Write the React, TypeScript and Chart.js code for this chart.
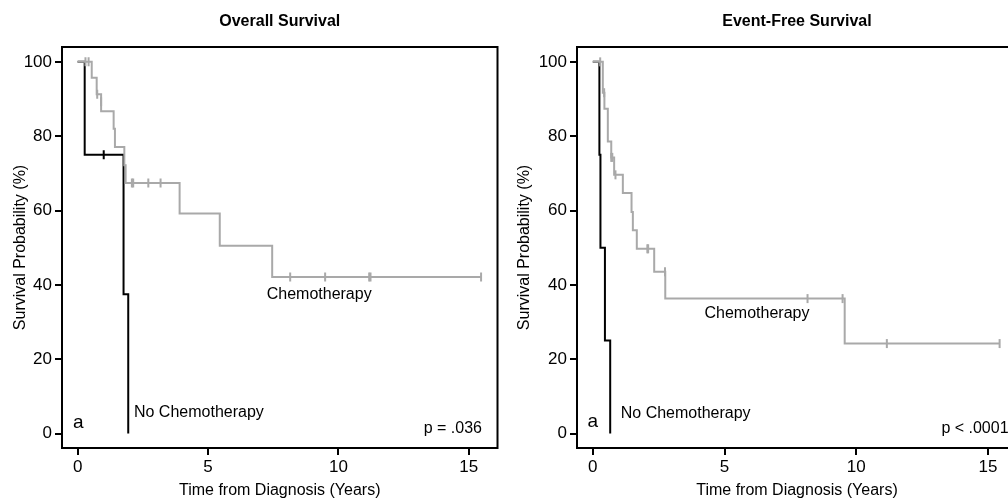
import React, { useEffect, useRef } from "react";
import { Chart, registerables } from "chart.js";

Chart.register(...registerables);

const FONT = "'Liberation Sans', Arial, Helvetica, sans-serif";

// Axis ticks
const xTicks = [0, 5, 10, 15];
const yTicks = [0, 20, 40, 60, 80, 100];

// ---- Overall Survival ----
const osChemoTime = [0, 0.54, 0.73, 0.9, 1.38, 1.43, 1.79, 1.84, 3.91, 5.45, 7.46, 15.47];
const osChemoSurv = [100, 95.7, 91.3, 86.7, 82.0, 77.1, 72.2, 67.4, 59.2, 50.5, 42.1, 42.1];
const osChemoCensorTime = [0.3, 0.42, 0.75, 0.9, 2.08, 2.13, 2.71, 3.18, 8.15, 9.49, 11.18, 11.23, 15.47];
const osChemoCensorSurv = [100, 100, 91.3, 89.3, 67.4, 67.4, 67.4, 67.4, 42.1, 42.1, 42.1, 42.1, 42.1];
const osNoChemoTime = [0, 0.27, 1.76, 1.94];
const osNoChemoSurv = [100, 75, 37.5, 0];
const osNoChemoCensorTime = [1.0];
const osNoChemoCensorSurv = [75];

// ---- Event-Free Survival ----
const efsChemoTime = [0, 0.38, 0.44, 0.57, 0.7, 0.81, 1.14, 1.47, 1.52, 1.67, 2.33, 2.75, 9.56, 15.44];
const efsChemoSurv = [100, 91.7, 87.4, 78.6, 74.3, 69.6, 64.7, 59.6, 54.7, 49.7, 43.5, 36.3, 24.2, 24.2];
const efsChemoCensorTime = [0.28, 0.43, 0.7, 0.74, 0.86, 2.07, 2.1, 2.74, 8.15, 9.48, 11.16, 15.44];
const efsChemoCensorSurv = [100, 91.7, 74.3, 74.3, 69.6, 49.7, 49.7, 43.5, 36.3, 36.3, 24.2, 24.2];
const efsNoChemoTime = [0, 0.25, 0.29, 0.46, 0.66];
const efsNoChemoSurv = [100, 75, 50, 25, 0];

// Text labels
const osLabels = [
  { text: "Chemotherapy", x: 7.25, y: 37.5, size: 16 },
  { text: "No Chemotherapy", x: 2.16, y: 5.5, size: 16 },
  { text: "a", x: -0.18, y: 3.0, size: 19 },
  { text: "p = .036", x: 13.27, y: 1.4, size: 16 },
];
const efsLabels = [
  { text: "Chemotherapy", x: 4.24, y: 32.3, size: 16 },
  { text: "No Chemotherapy", x: 1.06, y: 5.4, size: 16 },
  { text: "a", x: -0.2, y: 3.1, size: 19 },
  { text: "p < .0001", x: 13.23, y: 1.2, size: 16 },
];

const GRAY = "#a9a9a9";
const BLACK = "#000000";

const pts = (xs: number[], ys: number[]) => xs.map((x, i) => ({ x, y: ys[i] }));

function buildConfig(opts: {
  title: string;
  chemoT: number[];
  chemoS: number[];
  chemoCT: number[];
  chemoCS: number[];
  noT: number[];
  noS: number[];
  noCT: number[];
  noCS: number[];
  labels: { text: string; x: number; y: number; size: number }[];
  yWidth: number;
  rightPad: number;
}): any {
  const textPlugin = {
    id: "panelText",
    afterDatasetsDraw(chart: any) {
      const { ctx, chartArea, scales } = chart;
      ctx.save();
      // box
      ctx.strokeStyle = "#000";
      ctx.lineWidth = 2;
      ctx.strokeRect(chartArea.left, chartArea.top, chartArea.right - chartArea.left, chartArea.bottom - chartArea.top);
      // title
      ctx.fillStyle = "#000";
      ctx.font = `bold 16px ${FONT}`;
      ctx.textAlign = "center";
      ctx.textBaseline = "middle";
      ctx.fillText(opts.title, (chartArea.left + chartArea.right) / 2, 22);
      // annotations
      ctx.textAlign = "left";
      for (const l of opts.labels) {
        ctx.font = `${l.size}px ${FONT}`;
        ctx.fillText(l.text, scales.x.getPixelForValue(l.x), scales.y.getPixelForValue(l.y));
      }
      ctx.restore();
    },
  };

  const curve = (data: any, color: string, order: number) => ({
    data,
    showLine: true,
    stepped: true,
    borderColor: color,
    borderWidth: 2,
    pointRadius: 0,
    fill: false,
    order,
  });
  const censor = (data: any, color: string, order: number) => ({
    data,
    showLine: false,
    pointStyle: "line",
    pointRotation: 90,
    pointRadius: 4.5,
    pointBorderWidth: 2,
    borderColor: color,
    pointBorderColor: color,
    order,
  });

  return {
    type: "scatter",
    data: {
      datasets: [
        curve(pts(opts.noT, opts.noS), BLACK, 3),
        censor(pts(opts.noCT, opts.noCS), BLACK, 2),
        curve(pts(opts.chemoT, opts.chemoS), GRAY, 1),
        censor(pts(opts.chemoCT, opts.chemoCS), GRAY, 0),
      ],
    },
    options: {
      responsive: false,
      animation: false,
      devicePixelRatio: 1,
      layout: { padding: { top: 47, left: 0, right: opts.rightPad, bottom: 0 } },
      plugins: { legend: { display: false }, tooltip: { enabled: false }, title: { display: false } },
      scales: {
        x: {
          type: "linear",
          min: -0.6,
          max: 16.1,
          afterBuildTicks: (s: any) => {
            s.ticks = xTicks.map((v) => ({ value: v }));
          },
          afterFit: (s: any) => {
            s.height = 52;
          },
          grid: { display: true, drawOnChartArea: false, drawTicks: true, tickLength: 7, color: "#000", lineWidth: 2 },
          border: { display: false },
          ticks: { color: "#000", font: { size: 17, family: FONT }, padding: 2, maxRotation: 0 },
          title: {
            display: true,
            text: "Time from Diagnosis (Years)",
            color: "#000",
            font: { size: 16, family: FONT },
            padding: { top: 0, bottom: 0 },
          },
        },
        y: {
          type: "linear",
          min: -3.9,
          max: 104,
          afterBuildTicks: (s: any) => {
            s.ticks = yTicks.map((v) => ({ value: v }));
          },
          afterFit: (s: any) => {
            s.width = opts.yWidth;
          },
          grid: { display: true, drawOnChartArea: false, drawTicks: true, tickLength: 7, color: "#000", lineWidth: 2 },
          border: { display: false },
          ticks: { color: "#000", font: { size: 17, family: FONT }, padding: 3 },
          title: {
            display: true,
            text: "Survival Probability (%)",
            color: "#000",
            font: { size: 16, family: FONT },
            padding: { top: 11, bottom: 0 },
          },
        },
      },
    },
    plugins: [textPlugin],
  };
}

function Panel(props: { config: any; width: number; left: number }) {
  const ref = useRef<HTMLCanvasElement | null>(null);
  useEffect(() => {
    if (!ref.current) return;
    const chart = new Chart(ref.current, props.config);
    return () => chart.destroy();
  }, []);
  return (
    <canvas
      ref={ref}
      width={props.width}
      height={500}
      style={{ position: "absolute", left: props.left, top: 0, width: props.width, height: 500 }}
    />
  );
}

export default function App() {
  const osConfig = buildConfig({
    title: "Overall Survival",
    chemoT: osChemoTime,
    chemoS: osChemoSurv,
    chemoCT: osChemoCensorTime,
    chemoCS: osChemoCensorSurv,
    noT: osNoChemoTime,
    noS: osNoChemoSurv,
    noCT: osNoChemoCensorTime,
    noCS: osNoChemoCensorSurv,
    labels: osLabels,
    yWidth: 62,
    rightPad: 2,
  });
  const efsConfig = buildConfig({
    title: "Event-Free Survival",
    chemoT: efsChemoTime,
    chemoS: efsChemoSurv,
    chemoCT: efsChemoCensorTime,
    chemoCS: efsChemoCensorSurv,
    noT: efsNoChemoTime,
    noS: efsNoChemoSurv,
    noCT: [],
    noCS: [],
    labels: efsLabels,
    yWidth: 73,
    rightPad: 27,
  });
  return (
    <div
      style={{
        position: "fixed",
        left: 0,
        top: 0,
        width: 1008,
        height: 500,
        overflow: "hidden",
        background: "#fff",
      }}
    >
      <Panel config={osConfig} width={504} left={0} />
      <Panel config={efsConfig} width={540} left={504} />
    </div>
  );
}
